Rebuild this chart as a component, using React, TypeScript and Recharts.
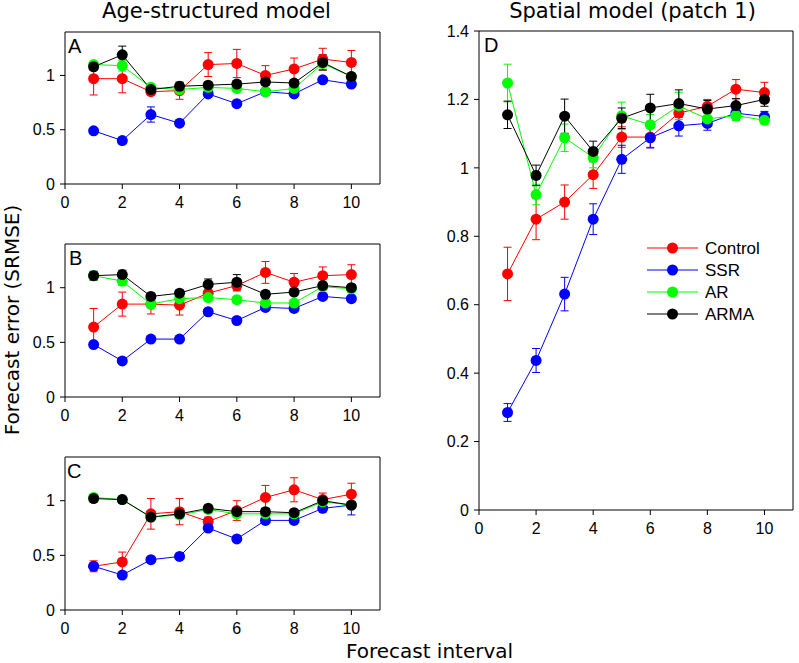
import React from 'react';
import { LineChart, Line, XAxis, YAxis, ErrorBar, Legend } from 'recharts';

// forecast intervals and axis ticks
const intervals = [1, 2, 3, 4, 5, 6, 7, 8, 9, 10];
const xTicks = [0, 2, 4, 6, 8, 10];
const smallYTicks = [0, 0.5, 1];
const bigYTicks = [0, 0.2, 0.4, 0.6, 0.8, 1, 1.2, 1.4];
const seriesNames = ['Control', 'SSR', 'AR', 'ARMA'];

// panel A
const aControl = [0.97, 0.97, 0.85, 0.86, 1.1, 1.11, 1.0, 1.06, 1.15, 1.12];
const aControlErr = [0.15, 0.13, 0.03, 0.08, 0.11, 0.13, 0.09, 0.1, 0.1, 0.11];
const aSSR = [0.49, 0.4, 0.64, 0.56, 0.83, 0.74, 0.85, 0.83, 0.96, 0.92];
const aSSRErr = [0.02, 0.02, 0.07, 0.03, 0.03, 0.02, 0.02, 0.02, 0.02, 0.02];
const aAR = [1.1, 1.09, 0.89, 0.87, 0.89, 0.88, 0.85, 0.88, 1.11, 0.99];
const aARErr = [0.03, 0.05, 0.03, 0.03, 0.03, 0.03, 0.03, 0.03, 0.04, 0.03];
const aARMA = [1.08, 1.19, 0.87, 0.9, 0.91, 0.92, 0.94, 0.93, 1.12, 0.99];
const aARMAErr = [0.03, 0.08, 0.03, 0.03, 0.03, 0.03, 0.03, 0.03, 0.07, 0.03];

// panel B
const bControl = [0.64, 0.85, 0.85, 0.84, 0.95, 1.02, 1.14, 1.05, 1.11, 1.12];
const bControlErr = [0.17, 0.11, 0.09, 0.09, 0.05, 0.05, 0.1, 0.08, 0.08, 0.09];
const bSSR = [0.48, 0.33, 0.53, 0.53, 0.78, 0.7, 0.82, 0.81, 0.92, 0.9];
const bSSRErr = [0.02, 0.02, 0.02, 0.02, 0.02, 0.02, 0.02, 0.02, 0.02, 0.02];
const bAR = [1.11, 1.06, 0.85, 0.9, 0.91, 0.89, 0.86, 0.86, 1.01, 0.99];
const bARErr = [0.04, 0.04, 0.03, 0.03, 0.03, 0.03, 0.03, 0.03, 0.03, 0.03];
const bARMA = [1.11, 1.12, 0.92, 0.95, 1.03, 1.05, 0.94, 0.96, 1.02, 1.0];
const bARMAErr = [0.04, 0.04, 0.03, 0.03, 0.05, 0.07, 0.03, 0.03, 0.03, 0.03];

// panel C
const cControl = [0.4, 0.44, 0.88, 0.9, 0.81, 0.91, 1.03, 1.1, 1.01, 1.06];
const cControlErr = [0.05, 0.09, 0.14, 0.12, 0.04, 0.09, 0.11, 0.11, 0.06, 0.1];
const cSSR = [0.4, 0.32, 0.46, 0.49, 0.75, 0.65, 0.82, 0.82, 0.93, 0.96];
const cSSRErr = [0.02, 0.02, 0.02, 0.02, 0.03, 0.02, 0.02, 0.02, 0.02, 0.09];
const cAR = [1.03, 1.01, 0.85, 0.87, 0.92, 0.88, 0.88, 0.88, 0.99, 0.96];
const cARErr = [0.03, 0.03, 0.03, 0.03, 0.03, 0.03, 0.03, 0.03, 0.03, 0.03];
const cARMA = [1.02, 1.01, 0.85, 0.88, 0.93, 0.9, 0.9, 0.89, 1.0, 0.96];
const cARMAErr = [0.03, 0.03, 0.03, 0.03, 0.03, 0.03, 0.03, 0.03, 0.03, 0.03];

// panel D (spatial model)
const dControl = [0.69, 0.85, 0.9, 0.98, 1.09, 1.09, 1.16, 1.18, 1.23, 1.22];
const dControlErr = [0.078, 0.06, 0.05, 0.04, 0.03, 0.03, 0.03, 0.02, 0.028, 0.03];
const dSSR = [0.285, 0.437, 0.631, 0.85, 1.025, 1.088, 1.123, 1.13, 1.16, 1.15];
const dSSRErr = [0.026, 0.035, 0.049, 0.045, 0.041, 0.03, 0.03, 0.02, 0.02, 0.015];
const dAR = [1.248, 0.922, 1.088, 1.03, 1.152, 1.126, 1.181, 1.143, 1.153, 1.139];
const dARErr = [0.055, 0.03, 0.04, 0.03, 0.04, 0.03, 0.04, 0.02, 0.015, 0.01];
const dARMA = [1.155, 0.978, 1.151, 1.048, 1.145, 1.175, 1.188, 1.172, 1.182, 1.2];
const dARMAErr = [0.04, 0.03, 0.05, 0.03, 0.03, 0.04, 0.04, 0.025, 0.02, 0.02];

const colors = ['#ff0000', '#0000ff', '#00ff00', '#000000'];
const sans = 'Liberation Sans, Arial, sans-serif';
const dejavu = 'DejaVu Sans, sans-serif';

function buildRows(vals: number[][], errs: number[][]) {
  return intervals.map((x, i) => {
    const row: any = { x };
    seriesNames.forEach((n, k) => {
      row[n] = vals[k][i];
      row[n + 'Err'] = errs[k][i];
    });
    return row;
  });
}

const rowsA = buildRows([aControl, aSSR, aAR, aARMA], [aControlErr, aSSRErr, aARErr, aARMAErr]);
const rowsB = buildRows([bControl, bSSR, bAR, bARMA], [bControlErr, bSSRErr, bARErr, bARMAErr]);
const rowsC = buildRows([cControl, cSSR, cAR, cARMA], [cControlErr, cSSRErr, cARErr, cARMAErr]);
const rowsD = buildRows([dControl, dSSR, dAR, dARMA], [dControlErr, dSSRErr, dARErr, dARMAErr]);

const tickStyle = { fill: '#000', fontSize: 16, fontFamily: sans };

const LegendBox = () => (
  <svg width={140} height={100}>
    {seriesNames.map((n, k) => (
      <g key={n} transform={`translate(0, ${11 + k * 22})`}>
        <line x1={0} x2={51} y1={0} y2={0} stroke={colors[k]} strokeWidth={1} />
        <circle cx={25.5} cy={0} r={5.5} fill={colors[k]} />
        <text x={58} y={6} fontSize={17} fontFamily={sans} fill="#000">{n}</text>
      </g>
    ))}
  </svg>
);

type Plot = { x: number; y: number; w: number; h: number };

function Panel({ rows, plot, yTicks, rightSpace = 12, legend = false }: { rows: any[]; plot: Plot; yTicks: number[]; rightSpace?: number; legend?: boolean }) {
  const left = 50;
  const top = 12;
  const bottom = 30;
  const width = plot.w + left + rightSpace;
  const height = plot.h + top + bottom;
  return (
    <div style={{ position: 'absolute', left: plot.x - left, top: plot.y - top }}>
      <LineChart width={width} height={height} data={rows} margin={{ top: 7, right: rightSpace - 5, left: 10, bottom: 8 }}>
        <XAxis dataKey="x" type="number" domain={[0, 11]} ticks={xTicks} allowDataOverflow interval={0}
          height={22} tickSize={5} tickMargin={8} stroke="#000" tick={tickStyle} />
        <XAxis xAxisId="top" orientation="top" dataKey="x" type="number" domain={[0, 11]} ticks={xTicks} allowDataOverflow interval={0}
          height={5} tickSize={5} tick={false} stroke="#000" />
        <YAxis type="number" domain={[0, 1.4]} ticks={yTicks} allowDataOverflow interval={0}
          width={40} tickSize={5} tickMargin={5} stroke="#000" tick={tickStyle} />
        <YAxis yAxisId="right" orientation="right" type="number" domain={[0, 1.4]} ticks={yTicks} allowDataOverflow interval={0}
          width={5} tickSize={5} tick={false} stroke="#000" />
        {seriesNames.map((n, k) => (
          <Line key={n} dataKey={n} stroke={colors[k]} strokeWidth={1}
            dot={{ r: 5.5, fill: colors[k], stroke: 'none' }} activeDot={false} isAnimationActive={false}>
            <ErrorBar dataKey={n + 'Err'} direction="y" width={4} stroke={colors[k]} strokeWidth={1} isAnimationActive={false} />
          </Line>
        ))}
        {legend && (
          <Legend content={() => <LegendBox />} wrapperStyle={{ left: 218, top: 218, width: 140, height: 100 }} />
        )}
      </LineChart>
    </div>
  );
}

export default function App() {
  return (
    <div style={{ position: 'absolute', left: 0, top: 0, width: 799, height: 663, overflow: 'hidden', background: '#fff' }}>
      <Panel rows={rowsA} plot={{ x: 65, y: 32, w: 315, h: 152 }} yTicks={smallYTicks} />
      <Panel rows={rowsB} plot={{ x: 65, y: 244, w: 315, h: 153 }} yTicks={smallYTicks} />
      <Panel rows={rowsC} plot={{ x: 65, y: 457, w: 315, h: 153 }} yTicks={smallYTicks} />
      <Panel rows={rowsD} plot={{ x: 479, y: 31, w: 314, h: 579 }} yTicks={bigYTicks} rightSpace={6} legend />
      <svg width={799} height={663} style={{ position: 'absolute', left: 0, top: 0, pointerEvents: 'none' }}>
        <text x={216.5} y={18} textAnchor="middle" fontSize={21} fontFamily={dejavu} fill="#000">Age-structured model</text>
        <text x={632.5} y={18} textAnchor="middle" fontSize={21} fontFamily={dejavu} fill="#000">Spatial model (patch 1)</text>
        <text x={429.5} y={658} textAnchor="middle" fontSize={20} fontFamily={dejavu} fill="#000">Forecast interval</text>
        <text transform="translate(19, 320) rotate(-90)" textAnchor="middle" fontSize={20} fontFamily={dejavu} fill="#000">Forecast error (SRMSE)</text>
        <text x={68} y={53} fontSize={20} fontFamily={sans} fill="#000">A</text>
        <text x={69} y={265} fontSize={20} fontFamily={sans} fill="#000">B</text>
        <text x={67} y={478} fontSize={20} fontFamily={sans} fill="#000">C</text>
        <text x={484} y={52} fontSize={20} fontFamily={sans} fill="#000">D</text>
      </svg>
    </div>
  );
}
